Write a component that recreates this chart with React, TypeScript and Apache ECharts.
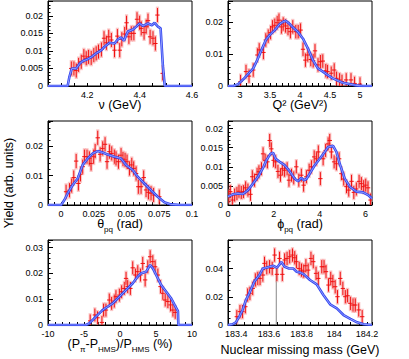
import React, { useEffect, useRef } from 'react';
import * as echarts from 'echarts';

const FONT = 'Liberation Sans, Arial, sans-serif';

// Panel 1: nu (GeV)
const nuX = [4.139,4.149,4.158,4.167,4.177,4.187,4.196,4.205,4.215,4.225,4.234,4.243,4.254,4.264,4.273,4.282,4.292,4.304,4.315,4.324,4.332,4.343,4.35,4.359,4.368,4.378,4.39,4.4,4.406,4.417,4.425,4.432,4.44,4.451,4.46,4.468,4.488];
const nuY = [0.005,0.005,0.0044,0.006,0.0069,0.0085,0.0079,0.0083,0.008,0.0088,0.0093,0.0098,0.0104,0.0136,0.0123,0.014,0.0131,0.0102,0.0142,0.0102,0.0133,0.0148,0.018,0.014,0.015,0.015,0.019,0.018,0.0164,0.0152,0.0169,0.0186,0.014,0.0136,0.0121,0.0202,0.0036];
const nuSimX = [4.05,4.125,4.132,4.141,4.158,4.171,4.183,4.2,4.215,4.234,4.254,4.266,4.285,4.304,4.317,4.33,4.34,4.355,4.375,4.387,4.4,4.413,4.432,4.447,4.457,4.47,4.48,4.489,4.496,4.6];
const nuSimY = [0,0,0.0027,0.005,0.005,0.0064,0.0071,0.0076,0.0082,0.0093,0.0102,0.0112,0.0123,0.0121,0.0133,0.0138,0.0129,0.0155,0.0161,0.0169,0.0178,0.0171,0.0178,0.0173,0.018,0.0169,0.0164,0.0055,0,0];

// Panel 2: Q2 (GeV2)
const q2X = [3.01,3.10,3.15,3.22,3.29,3.32,3.39,3.43,3.47,3.51,3.54,3.58,3.62,3.65,3.69,3.72,3.76,3.80,3.84,3.88,3.93,3.97,4.01,4.05,4.09,4.13,4.18,4.22,4.25,4.30,4.34,4.38,4.43,4.46,4.52,4.57,4.61,4.66,4.70,4.77,4.85,4.91,5.0];
const q2Y = [0.0014,0.0045,0.0031,0.005,0.0097,0.0113,0.0105,0.0144,0.0156,0.0167,0.0185,0.019,0.0198,0.0206,0.0185,0.0194,0.0188,0.018,0.017,0.0185,0.017,0.017,0.0175,0.0115,0.0081,0.0097,0.0083,0.0079,0.011,0.0066,0.0076,0.0078,0.0048,0.0045,0.004,0.005,0.0024,0.0019,0.0014,0.0019,0.0019,0.0008,0.0006];
const q2SimX = [2.8,2.89,2.97,3.055,3.138,3.221,3.287,3.359,3.431,3.497,3.58,3.663,3.718,3.762,3.818,3.884,3.967,4.05,4.133,4.215,4.298,4.381,4.464,4.547,4.63,4.713,4.823,4.934,5.044,5.2];
const q2SimY = [0,0,0.0006,0.0021,0.0038,0.0055,0.0081,0.0113,0.0144,0.016,0.0175,0.0194,0.0201,0.0204,0.0196,0.0183,0.0169,0.0148,0.0117,0.0081,0.0055,0.0045,0.0034,0.0024,0.0017,0.001,0.0006,0.0002,0,0];

// Panel 3: theta_pq (rad)
const thX = [0.0038,0.0064,0.0081,0.0097,0.0115,0.0132,0.0148,0.0165,0.0178,0.0198,0.0216,0.0229,0.0249,0.026,0.028,0.0298,0.0318,0.0336,0.0351,0.0369,0.0387,0.0407,0.042,0.0438,0.0458,0.0473,0.0489,0.0504,0.0522,0.054,0.0555,0.0573,0.059,0.0611,0.0631,0.0649,0.0667,0.0687,0.0707,0.075];
const thY = [0.0045,0.005,0.0066,0.0093,0.0149,0.0073,0.0104,0.013,0.0164,0.0164,0.0158,0.0141,0.0164,0.0183,0.0228,0.0172,0.0192,0.0206,0.0147,0.0181,0.0175,0.0164,0.0158,0.0147,0.0169,0.0156,0.0153,0.0147,0.0124,0.0136,0.0124,0.0107,0.0062,0.0062,0.0093,0.0051,0.0043,0.004,0.0034,0.0028];
const thSimX = [-0.01,0,0.0025,0.0051,0.0089,0.0127,0.0165,0.0204,0.0242,0.028,0.0318,0.0356,0.0407,0.0458,0.0496,0.0547,0.0585,0.0636,0.0687,0.0738,0.0789,0.084,0.0916,0.1];
const thSimY = [0,0,0.0017,0.004,0.0068,0.009,0.0136,0.0158,0.0175,0.0183,0.0178,0.0171,0.0164,0.0158,0.0136,0.0119,0.0096,0.0073,0.005,0.0028,0.0009,0.0002,0,0];

// Panel 4: phi_pq (rad)
const phX = [0.04,0.1,0.19,0.29,0.39,0.48,0.58,0.68,0.77,0.87,0.98,1.06,1.16,1.27,1.35,1.46,1.53,1.62,1.72,1.82,1.89,1.99,2.08,2.18,2.29,2.37,2.47,2.58,2.66,2.77,2.87,2.98,3.09,3.2,3.3,3.42,3.54,3.64,3.76,3.86,3.94,4.03,4.15,4.26,4.37,4.44,4.51,4.63,4.73,4.85,4.95,5.05,5.17,5.27,5.39,5.49,5.6,5.72,5.82,5.92,6.01,6.11,6.22];
const phY = [0.0022,0.0035,0.0013,0.0026,0.003,0.0036,0.0033,0.0035,0.0045,0.0039,0.0028,0.0074,0.0065,0.008,0.0087,0.0095,0.0134,0.0117,0.0113,0.0169,0.0147,0.0117,0.0113,0.0088,0.0078,0.0095,0.0091,0.0095,0.0065,0.0078,0.0071,0.01,0.0065,0.0078,0.0052,0.0074,0.0091,0.01,0.0126,0.0121,0.0139,0.0069,0.0121,0.0143,0.016,0.0169,0.0139,0.0113,0.0108,0.0121,0.0082,0.0068,0.0048,0.0039,0.0062,0.0033,0.0042,0.0062,0.0056,0.0048,0.0052,0.0045,0.0013];
const phSimX = [0,0.218,0.437,0.655,0.873,1.092,1.31,1.528,1.674,1.849,1.965,2.082,2.256,2.475,2.693,2.911,3.057,3.202,3.304,3.421,3.566,3.785,4.003,4.221,4.367,4.585,4.731,4.876,5.095,5.313,5.604,5.895,6.114,6.283];
const phSimY = [0.0022,0.0028,0.003,0.0029,0.0039,0.0056,0.0074,0.0097,0.0117,0.0134,0.0137,0.0121,0.0113,0.0104,0.0088,0.0069,0.0062,0.0071,0.0065,0.0068,0.0082,0.0104,0.0121,0.0139,0.0152,0.0155,0.0139,0.0108,0.0069,0.0048,0.0035,0.0033,0.0026,0.0017];

// Panel 5: (P_pi - P_HMS)/P_HMS (%)
const dpX = [-4.14,-3.49,-3.12,-2.51,-2.28,-1.95,-1.49,-1.16,-0.79,-0.56,-0.09,0.23,0.6,0.84,1.07,1.44,1.77,2.14,2.47,2.84,3.16,3.49,3.86,4.19,4.56,4.88,5.26,5.63,5.95,6.28,6.65,7.02,7.35,7.67];
const dpY = [0.0016,0.0039,0.0028,0.001,0.0058,0.0058,0.0097,0.0084,0.0093,0.011,0.0116,0.0129,0.0142,0.0181,0.0149,0.0142,0.0222,0.0194,0.0207,0.0194,0.0239,0.0175,0.0226,0.0265,0.0246,0.0226,0.0194,0.0149,0.0123,0.0097,0.0091,0.0078,0.0058,0.0049];
const dpSimX = [-10,-4.74,-4.28,-3.58,-2.88,-2.42,-1.72,-1.02,-0.33,0.37,1.07,1.77,2.47,2.93,3.63,4.19,4.56,5.02,5.72,6.42,7.12,7.58,8.05,8.1,10];
const dpSimY = [0,0,0.0006,0.0026,0.0045,0.0058,0.0071,0.0084,0.0103,0.0123,0.0142,0.0162,0.0188,0.0201,0.0207,0.0233,0.022,0.0194,0.0155,0.0129,0.0103,0.0078,0.0054,0,0];

// Panel 6: nuclear missing mass (GeV)
const mmX = [183.404,183.423,183.439,183.456,183.47,183.484,183.501,183.517,183.532,183.546,183.563,183.573,183.587,183.604,183.62,183.635,183.649,183.665,183.682,183.696,183.711,183.727,183.744,183.758,183.768,183.785,183.799,183.813,183.826,183.84,183.857,183.871,183.888,183.902,183.923,183.937,183.949,183.964,183.978,183.991,184.005,184.019,184.036,184.052,184.067,184.081,184.098,184.114,184.128,184.149,184.17];
const mmY = [0.0059,0.0095,0.0095,0.013,0.0213,0.0225,0.026,0.032,0.0331,0.0331,0.0355,0.0438,0.0407,0.0414,0.0402,0.0497,0.036,0.0473,0.036,0.0462,0.0473,0.0485,0.0497,0.0478,0.045,0.0402,0.039,0.0383,0.0421,0.039,0.0473,0.045,0.0367,0.0331,0.0414,0.0414,0.0379,0.0284,0.0331,0.0308,0.0272,0.0201,0.0331,0.026,0.0201,0.0208,0.0154,0.0142,0.0142,0.0107,0.0059];
const mmSimX = [183.35,183.377,183.398,183.419,183.439,183.46,183.48,183.511,183.542,183.563,183.583,183.604,183.628,183.649,183.676,183.696,183.723,183.748,183.768,183.789,183.814,183.851,183.892,183.933,183.974,184.015,184.056,184.098,184.139,184.18,184.23];
const mmSimY = [0,0.0005,0.0019,0.0059,0.0107,0.0178,0.0225,0.0308,0.0355,0.0402,0.0407,0.0414,0.0421,0.0407,0.0448,0.0414,0.0402,0.0402,0.0379,0.0374,0.036,0.032,0.0289,0.0213,0.0147,0.0118,0.0071,0.0043,0.0019,0.0005,0];
const mmMarkerX = [183.645, 183.645];
const mmMarkerY = [0, 0.0414];

// typical error-bar half lengths per panel
const errBars = [0.002, 0.0021, 0.0024, 0.0017, 0.0025, 0.0047];

const zip = (xs: number[], ys: number[]) => xs.slice(0, Math.min(xs.length, ys.length)).map((x, i) => [x, ys[i]]);
const fmt = (v: number) => String(parseFloat(v.toFixed(4)));

const panels = [
  { data: zip(nuX, nuY), sim: zip(nuSimX, nuSimY), grid: { left: 48, top: 1, width: 144, height: 85 },
    x: { min: 4.05, max: 4.6, interval: 0.05, step: 0.2 }, y: { max: 0.0242, interval: 0.005, minor: 5, labelMax: 0.02 } },
  { data: zip(q2X, q2Y), sim: zip(q2SimX, q2SimY), grid: { left: 228, top: 1, width: 144, height: 85 },
    x: { min: 2.8, max: 5.2, interval: 0.1, step: 0.5 }, y: { max: 0.0266, interval: 0.01, minor: 5, labelMax: 0.02 } },
  { data: zip(thX, thY), sim: zip(thSimX, thSimY), grid: { left: 48, top: 121, width: 144, height: 84 },
    x: { min: -0.01, max: 0.1, interval: 0.005, step: 0.025 }, y: { max: 0.0285, interval: 0.01, minor: 5, labelMax: 0.02 } },
  { data: zip(phX, phY), sim: zip(phSimX, phSimY), grid: { left: 228, top: 121, width: 144, height: 84 },
    x: { min: 0, max: 2 * Math.PI, interval: 0.5, step: 2 }, y: { max: 0.022, interval: 0.005, minor: 5, labelMax: 0.02 } },
  { data: zip(dpX, dpY), sim: zip(dpSimX, dpSimY), grid: { left: 48, top: 240, width: 144, height: 85 },
    x: { min: -10, max: 10, interval: 1, step: 5 }, y: { max: 0.033, interval: 0.01, minor: 5, labelMax: 0.03 } },
  { data: zip(mmX, mmY), sim: zip(mmSimX, mmSimY), grid: { left: 228, top: 240, width: 144, height: 85 },
    x: { min: 183.35, max: 184.23, interval: 0.05, step: 0.2 }, y: { max: 0.0604, interval: 0.02, minor: 4, labelMax: 0.04 } },
];

function buildOption() {
  const grid: any[] = [];
  const xAxis: any[] = [];
  const yAxis: any[] = [];
  const series: any[] = [];
  panels.forEach((p, i) => {
    grid.push({ ...p.grid, show: true, borderColor: '#000', borderWidth: 1, backgroundColor: 'transparent' });
    const step = p.x.step;
    const labelMax = p.y.labelMax;
    xAxis.push({
      type: 'value', gridIndex: i, min: p.x.min, max: p.x.max, interval: p.x.interval,
      axisLine: { show: true, onZero: false, lineStyle: { color: '#000', width: 1 } },
      axisTick: { show: true, inside: true, length: 3, lineStyle: { color: '#000', width: 1 } },
      splitLine: { show: false },
      axisLabel: {
        fontSize: 9, fontFamily: FONT, color: '#000', margin: 4,
        formatter: (v: number) => {
          const r = v / step;
          return Math.abs(r - Math.round(r)) < 1e-6 ? fmt(v) : '';
        },
      },
    });
    yAxis.push({
      type: 'value', gridIndex: i, min: 0, max: p.y.max, interval: p.y.interval,
      axisLine: { show: true, onZero: false, lineStyle: { color: '#000', width: 1 } },
      axisTick: { show: true, inside: true, length: 5, lineStyle: { color: '#000', width: 1 } },
      minorTick: { show: true, splitNumber: p.y.minor, length: 2.5, lineStyle: { color: '#000', width: 1 } },
      splitLine: { show: false },
      axisLabel: {
        fontSize: 9, fontFamily: FONT, color: '#000', margin: 5, showMaxLabel: false,
        formatter: (v: number) => (v > labelMax + 1e-9 ? '' : fmt(v)),
      },
    });
    const e = errBars[i];
    series.push({
      type: 'custom', xAxisIndex: i, yAxisIndex: i, data: p.data, clip: true, z: 2, silent: true,
      renderItem: (_params: any, api: any) => {
        const x = api.value(0) as number;
        const y = api.value(1) as number;
        const c = api.coord([x, y]);
        const hi = api.coord([x, y + e]);
        const lo = api.coord([x, y - e]);
        const shi = api.coord([x, y + e * 1.2]);
        const slo = api.coord([x, y - e * 1.2]);
        return {
          type: 'group',
          children: [
            { type: 'rect', shape: { x: c[0] - 1.6, y: shi[1], width: 3.2, height: slo[1] - shi[1] }, style: { fill: 'rgba(245,120,120,0.42)' } },
            { type: 'line', shape: { x1: c[0], y1: hi[1], x2: c[0], y2: lo[1] }, style: { stroke: '#f01010', lineWidth: 1 } },
            { type: 'line', shape: { x1: c[0] - 2.2, y1: c[1], x2: c[0] + 2.2, y2: c[1] }, style: { stroke: '#f01010', lineWidth: 1 } },
          ],
        };
      },
    });
    series.push({
      type: 'line', xAxisIndex: i, yAxisIndex: i, data: p.sim, showSymbol: false, symbol: 'none', silent: true, z: 3,
      lineStyle: { color: '#3346f0', width: 2.6 },
    });
    series.push({
      type: 'line', xAxisIndex: i, yAxisIndex: i, data: p.sim, showSymbol: false, symbol: 'none', silent: true, z: 4,
      lineStyle: { color: '#9aa6ff', width: 0.9 },
    });
  });
  series.push({
    type: 'line', xAxisIndex: 5, yAxisIndex: 5, data: zip(mmMarkerX, mmMarkerY), showSymbol: false, symbol: 'none', silent: true, z: 1,
    lineStyle: { color: '#888', width: 1 },
  });

  const m = { fontSize: 12.5, fontFamily: FONT, fill: '#000', color: '#000', lineHeight: 18 };
  const s = { fontSize: 8, fontFamily: FONT, fill: '#000', color: '#000', lineHeight: 9, verticalAlign: 'bottom' };
  const title = (x: number, y: number, text: string, rotation = 0) => ({
    type: 'text', x, y, rotation, silent: true,
    style: { text, rich: { m, s }, fontSize: 12.5, fontFamily: FONT, fill: '#000', align: 'center', verticalAlign: 'middle', textAlign: 'center', textVerticalAlign: 'middle' },
  });

  return {
    animation: false,
    backgroundColor: '#fff',
    grid, xAxis, yAxis, series,
    graphic: [
      title(120, 105, '{m|ν (GeV)}'),
      title(300, 105, '{m|Q² (GeV²)}'),
      title(120, 224, '{m|θ}{s|pq}{m| (rad)}'),
      title(300, 224, '{m|ϕ}{s|pq}{m| (rad)}'),
      title(120, 344, '{m|(P}{s|π}{m|-P}{s|HMS}{m|)/P}{s|HMS}{m| (%)}'),
      title(300, 350, '{m|Nuclear missing mass (GeV)}'),
      title(9, 183, '{m|Yield (arb. units)}', Math.PI / 2),
    ],
  };
}

export default function App() {
  const ref = useRef<HTMLDivElement>(null);
  useEffect(() => {
    const chart = echarts.init(ref.current!, null, { renderer: 'svg' });
    chart.setOption(buildOption() as any);
    return () => chart.dispose();
  }, []);
  return <div ref={ref} style={{ position: 'absolute', left: 0, top: 0, width: 409, height: 359, background: '#fff' }} />;
}
